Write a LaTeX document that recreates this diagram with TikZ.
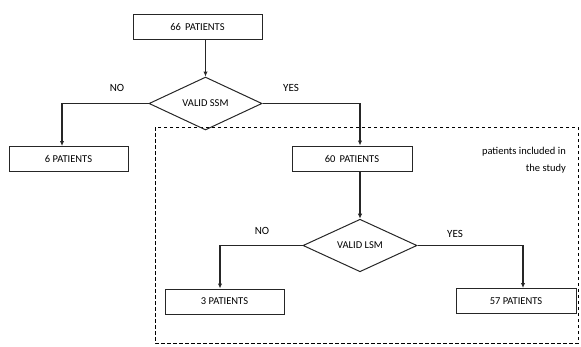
\documentclass[tikz,border=0pt]{standalone}
\usepackage{fontspec}
\setmainfont{Carlito}
\usetikzlibrary{shapes.geometric,arrows.meta}
\begin{document}
\begin{tikzpicture}[x=1pt,y=-1pt,
  box/.style={draw=black!85,line width=1pt,minimum height=25pt,inner sep=0pt,font=\fontsize{10.5}{12}\selectfont},
  dia/.style={draw=black!85,line width=1pt,diamond,inner sep=0pt,font=\fontsize{10.5}{12}\selectfont},
  conn/.style={line width=1.4pt,draw=black!85,-{Latex[length=5pt,width=4.5pt]}},
  lbl/.style={font=\fontsize{11}{12}\selectfont}]
\useasboundingbox (0,0) rectangle (581,346);
% dashed frame
\draw[line width=0.9pt,dash pattern=on 3.5pt off 2.5pt] (155,127) rectangle (578,343);
\node[box,minimum width=129pt] (p66) at (197.5,26.5) {66\, PATIENTS};
\node[dia,minimum width=113pt,minimum height=47pt] (ssm) at (205.5,103.5) {VALID SSM};
\node[box,minimum width=119pt] (p6) at (68.5,159) {6 PATIENTS};
\node[box,minimum width=120pt] (p60) at (352,158.5) {60\, PATIENTS};
\node[dia,minimum width=114pt,minimum height=35pt] (lsm) at (360,245.5) {VALID LSM};
\node[box,minimum width=119pt] (p3) at (224.5,301.5) {3 PATIENTS};
\node[box,minimum width=120pt] (p57) at (516,301) {57 PATIENTS};
\node[lbl] (no1) at (117,88) {NO};
\node[lbl] (yes1) at (291,88) {YES};
\node[lbl] (no2) at (262,231) {NO};
\node[lbl] (yes2) at (455,234) {YES};
\node[font=\fontsize{10.5}{17}\selectfont,align=right,anchor=north east,inner sep=0pt] (inc) at (566,147) {patients included in\\the study};
\coordinate (c1) at (62,103.5);
\coordinate (c2) at (360,103.5);
\coordinate (c3) at (220,245.5);
\coordinate (c4) at (523,245.5);
\draw[conn] (p66.south -| ssm.north) -- (ssm.north);
\draw[conn] (ssm.west) -- (c1) -- (c1 |- p6.north);
\draw[conn] (ssm.east) -- (c2) -- (c2 |- p60.north);
\draw[conn] (p60.south -| lsm.north) -- (lsm.north);
\draw[conn] (lsm.west) -- (c3) -- (c3 |- p3.north);
\draw[conn] (lsm.east) -- (c4) -- (c4 |- p57.north);
\end{tikzpicture}
\end{document}
